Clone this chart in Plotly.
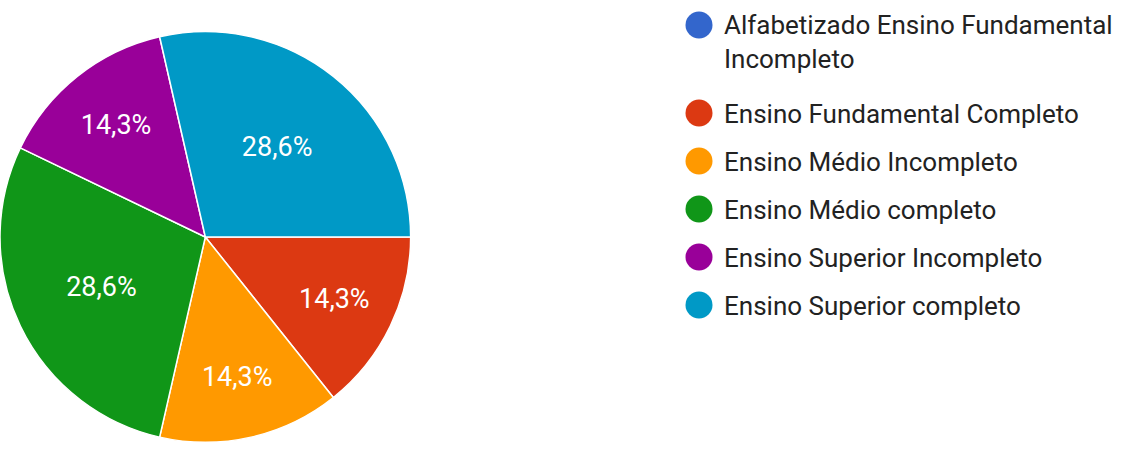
import plotly.graph_objects as go

# Escolaridade dos participantes (% de respostas)
categorias = [
    "Alfabetizado Ensino Fundamental<br>Incompleto",
    "Ensino Fundamental Completo",
    "Ensino Médio Incompleto",
    "Ensino Médio completo",
    "Ensino Superior Incompleto",
    "Ensino Superior completo",
]
percentuais = [0.0, 14.3, 14.3, 28.6, 14.3, 28.6]
cores = ["#3366cc", "#dc3912", "#ff9900", "#109618", "#990099", "#0099c6"]

W, H = 1122, 459
FONT = "Roboto"
LEG_FS = 26
PIE_FS = 27

# legend layout (pixel units on a hidden overlay axis)
LEG_X = 699
LEG_TEXT_GAP = 25
LEG_Y0 = 25
ROW_GAP = 48
LINE_GAP = 40

fig = go.Figure()

fig.add_trace(go.Pie(
    labels=categorias,
    values=percentuais,
    marker=dict(colors=cores, line=dict(color="white", width=1.5)),
    sort=False,
    direction="clockwise",
    rotation=90,
    textinfo="percent",
    textposition="inside",
    insidetextorientation="horizontal",
    insidetextfont=dict(family=FONT, size=PIE_FS, color="white"),
    domain=dict(x=[0.0, 0.366], y=[0.0305, 0.937]),
    showlegend=False,
    hoverinfo="label+percent",
))

# legend rows: marker y positions, accounting for wrapped labels
linhas = [c.count("<br>") + 1 for c in categorias]
marker_y = []
y = LEG_Y0
for n in linhas:
    marker_y.append(y)
    y += ROW_GAP + (n - 1) * LINE_GAP
text_y = [my + 3 + (n - 1) * 1.3 * LEG_FS / 2 for my, n in zip(marker_y, linhas)]

fig.add_trace(go.Scatter(
    x=[LEG_X] * len(categorias),
    y=marker_y,
    mode="markers",
    marker=dict(size=27, color=cores, line=dict(width=0)),
    hoverinfo="skip",
    showlegend=False,
))
fig.add_trace(go.Scatter(
    x=[LEG_X + LEG_TEXT_GAP] * len(categorias),
    y=text_y,
    mode="text",
    text=categorias,
    textposition="middle right",
    textfont=dict(family=FONT, size=LEG_FS, color="#222222"),
    hoverinfo="skip",
    showlegend=False,
))

fig.update_layout(
    width=W,
    height=H,
    margin=dict(l=0, r=0, t=0, b=0),
    paper_bgcolor="white",
    plot_bgcolor="white",
    separators=",.",
    font=dict(family=FONT),
    xaxis=dict(range=[0, W], visible=False, fixedrange=True, domain=[0, 1]),
    yaxis=dict(range=[H, 0], visible=False, fixedrange=True, domain=[0, 1]),
)

fig.write_html("out.html")
